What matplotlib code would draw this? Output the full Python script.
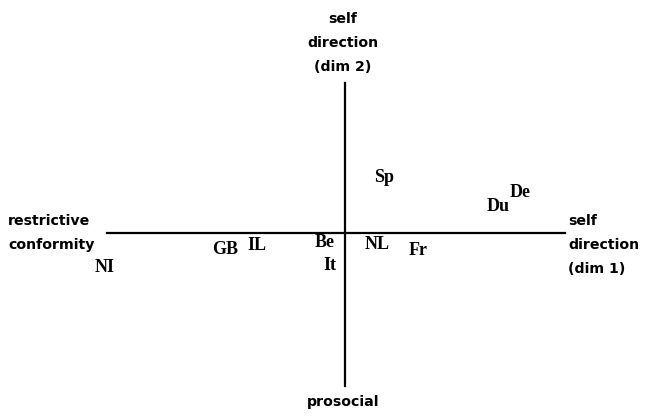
import matplotlib
matplotlib.use("Agg")
import matplotlib.pyplot as plt

countries = ["NI", "GB", "IL", "Be", "It", "NL", "Fr", "Sp", "Du", "De"]
dim1 = [-2.40, -1.20, -0.88, -0.20, -0.15, 0.32, 0.73, 0.39, 1.53, 1.75]
dim2 = [-0.35, -0.16, -0.12, -0.09, -0.33, -0.11, -0.17, 0.56, 0.27, 0.41]

fig = plt.figure(figsize=(6.47, 4.19), dpi=100)
ax = fig.add_axes([0, 0, 1, 1])
ax.set_xlim(-3.45, 3.02)
ax.set_ylim(-1.86, 2.33)
ax.axis("off")

ax.plot([-2.38, 2.20], [0, 0], color="black", lw=1.6)
ax.plot([0, 0], [-1.53, 1.50], color="black", lw=1.6)

for c, x, y in zip(countries, dim1, dim2):
    ax.text(x, y, c, ha="center", va="center", fontsize=13,
            family="Liberation Serif", fontweight="bold")

sans = dict(family="DejaVu Sans", fontweight="bold", fontsize=10.2)
ax.text(-3.37, 0.0, "restrictive\nconformity", ha="left", va="center",
        linespacing=1.9, **sans)
ax.text(2.23, -0.12, "self\ndirection\n(dim 1)", ha="left", va="center",
        linespacing=1.9, **sans)
ax.text(-0.02, 1.90, "self\ndirection\n(dim 2)", ha="center", va="center",
        linespacing=1.9, **sans)
ax.text(-0.02, -1.69, "prosocial", ha="center", va="center", **sans)

fig.savefig("out.png", dpi=100)
